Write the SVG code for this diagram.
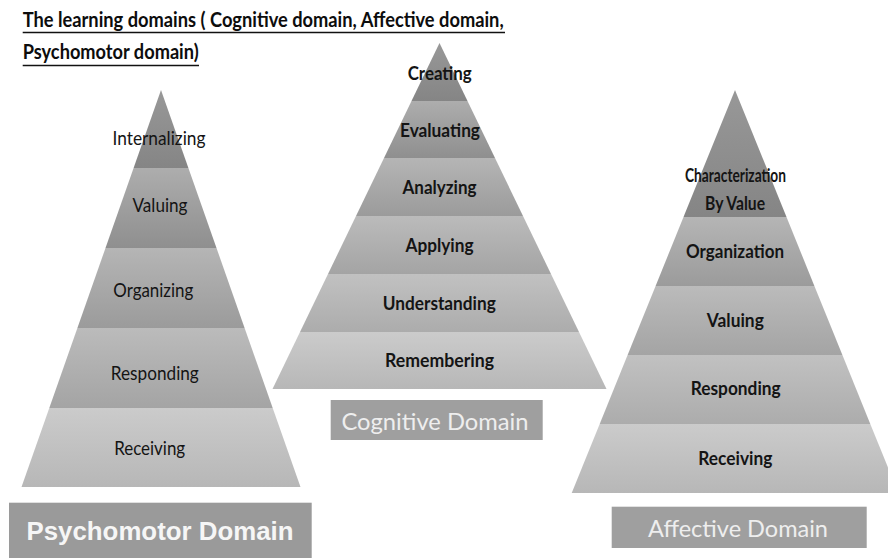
<svg xmlns="http://www.w3.org/2000/svg" width="888" height="558" viewBox="0 0 888 558">
<defs>
<linearGradient id="s1" x1="0" y1="0" x2="0" y2="1"><stop offset="0" stop-color="#989898"/><stop offset="1" stop-color="#858585"/></linearGradient>
<linearGradient id="s2" x1="0" y1="0" x2="0" y2="1"><stop offset="0" stop-color="#adadad"/><stop offset="1" stop-color="#8f8f8f"/></linearGradient>
<linearGradient id="s3" x1="0" y1="0" x2="0" y2="1"><stop offset="0" stop-color="#b5b5b5"/><stop offset="1" stop-color="#9b9b9b"/></linearGradient>
<linearGradient id="s4" x1="0" y1="0" x2="0" y2="1"><stop offset="0" stop-color="#bbbbbb"/><stop offset="1" stop-color="#a4a4a4"/></linearGradient>
<linearGradient id="s5" x1="0" y1="0" x2="0" y2="1"><stop offset="0" stop-color="#c1c1c1"/><stop offset="1" stop-color="#acacac"/></linearGradient>
<linearGradient id="s6" x1="0" y1="0" x2="0" y2="1"><stop offset="0" stop-color="#cbcbcb"/><stop offset="1" stop-color="#b7b7b7"/></linearGradient>
</defs>
<style>
.lbl{font-family:Lato,"Open Sans","DejaVu Sans",sans-serif;font-size:19px;fill:#141414;text-anchor:middle}
.b{font-weight:bold}
.title{font-family:Lato,"Open Sans","DejaVu Sans",sans-serif;font-size:21px;font-weight:bold;fill:#0d0d0d}
.ul{stroke:#111;stroke-width:1.7}
.box{fill:#9f9f9f}
.dom{font-family:Lato,"Open Sans","DejaVu Sans",sans-serif;font-size:24px;fill:#eeeeee;text-anchor:middle}
</style>
<rect width="888" height="558" fill="#ffffff"/>

<g id="title">
<text class="title" x="22.7" y="26.9" textLength="481" lengthAdjust="spacingAndGlyphs">The learning domains ( Cognitive domain, Affective domain,</text>
<line class="ul" x1="22.7" y1="32.5" x2="505" y2="32.5"/>
<text class="title" x="22.7" y="58.5" textLength="176" lengthAdjust="spacingAndGlyphs">Psychomotor domain)</text>
<line class="ul" x1="22.7" y1="65.5" x2="199" y2="65.5"/>
</g>

<g id="psychomotor-pyramid">
<g id="p-internalizing"><polygon points="161,90 188.4,168 133.6,168" fill="url(#s1)"/><text class="lbl" x="159" y="145" textLength="93" lengthAdjust="spacingAndGlyphs">Internalizing</text></g>
<g id="p-valuing"><polygon points="133.6,168 188.4,168 216.5,248 105.5,248" fill="url(#s2)"/><text class="lbl" x="160" y="211.7" textLength="55" lengthAdjust="spacingAndGlyphs">Valuing</text></g>
<g id="p-organizing"><polygon points="105.5,248 216.5,248 244.6,328 77.4,328" fill="url(#s3)"/><text class="lbl" x="153.3" y="296.7" textLength="80" lengthAdjust="spacingAndGlyphs">Organizing</text></g>
<g id="p-responding"><polygon points="77.4,328 244.6,328 272.7,408 49.3,408" fill="url(#s4)"/><text class="lbl" x="154.8" y="380" textLength="88" lengthAdjust="spacingAndGlyphs">Responding</text></g>
<g id="p-receiving"><polygon points="49.3,408 272.7,408 300.5,487 21.5,487" fill="url(#s6)"/><text class="lbl" x="149.7" y="455" textLength="71" lengthAdjust="spacingAndGlyphs">Receiving</text></g>
</g>

<g id="psychomotor-label">
<rect x="9" y="502.7" width="302.7" height="56" fill="#9a9a9a"/>
<text x="160" y="540" font-family="'Liberation Sans',Arial,sans-serif" font-size="25" font-weight="bold" fill="#f6f6f6" text-anchor="middle" textLength="267" lengthAdjust="spacingAndGlyphs">Psychomotor  Domain</text>
</g>

<g id="cognitive-pyramid">
<g id="c-creating"><polygon points="439.5,43 467.5,101 411.5,101" fill="url(#s1)"/><text class="lbl b" x="439.7" y="80" textLength="64" lengthAdjust="spacingAndGlyphs">Creating</text></g>
<g id="c-evaluating"><polygon points="411.5,101 467.5,101 495,158 384,158" fill="url(#s2)"/><text class="lbl b" x="440" y="137" textLength="80" lengthAdjust="spacingAndGlyphs">Evaluating</text></g>
<g id="c-analyzing"><polygon points="384,158 495,158 523,216 356,216" fill="url(#s3)"/><text class="lbl b" x="439.5" y="193.5" textLength="74" lengthAdjust="spacingAndGlyphs">Analyzing</text></g>
<g id="c-applying"><polygon points="356,216 523,216 551,274 328,274" fill="url(#s4)"/><text class="lbl b" x="439.5" y="252" textLength="68" lengthAdjust="spacingAndGlyphs">Applying</text></g>
<g id="c-understanding"><polygon points="328,274 551,274 579,332 300,332" fill="url(#s5)"/><text class="lbl b" x="439.3" y="310" textLength="113" lengthAdjust="spacingAndGlyphs">Understanding</text></g>
<g id="c-remembering"><polygon points="300,332 579,332 606.5,389 272.5,389" fill="url(#s6)"/><text class="lbl b" x="439.5" y="367" textLength="109" lengthAdjust="spacingAndGlyphs">Remembering</text></g>
</g>

<g id="cognitive-label">
<rect class="box" x="330.7" y="400" width="212" height="40"/>
<text class="dom" x="435" y="430" textLength="187" lengthAdjust="spacingAndGlyphs">Cognitive Domain</text>
</g>

<g id="affective-pyramid">
<g id="a-characterization"><polygon points="735,90 786.5,217 683.5,217" fill="url(#s1)"/><text class="lbl b" x="735.5" y="182" font-size="12.5" textLength="101" lengthAdjust="spacingAndGlyphs">Characterization</text><text class="lbl b" x="735" y="210" font-size="16.5" textLength="60" lengthAdjust="spacingAndGlyphs">By Value</text></g>
<g id="a-organization"><polygon points="683.5,217 786.5,217 814.4,286 655.6,286" fill="url(#s3)"/><text class="lbl b" x="735" y="258.3" textLength="98" lengthAdjust="spacingAndGlyphs">Organization</text></g>
<g id="a-valuing"><polygon points="655.6,286 814.4,286 842.4,355 627.6,355" fill="url(#s4)"/><text class="lbl b" x="735.3" y="327" textLength="57" lengthAdjust="spacingAndGlyphs">Valuing</text></g>
<g id="a-responding"><polygon points="627.6,355 842.4,355 870.3,424 599.7,424" fill="url(#s5)"/><text class="lbl b" x="735.7" y="395" textLength="90" lengthAdjust="spacingAndGlyphs">Responding</text></g>
<g id="a-receiving"><polygon points="599.7,424 870.3,424 898.3,493 571.7,493" fill="url(#s6)"/><text class="lbl b" x="735.3" y="465" textLength="74" lengthAdjust="spacingAndGlyphs">Receiving</text></g>
</g>

<g id="affective-label">
<rect class="box" x="611.7" y="506.7" width="255" height="41.3"/>
<text class="dom" x="738" y="537" font-size="25" textLength="180" lengthAdjust="spacingAndGlyphs">Affective Domain</text>
</g>

<g id="connectors"/>
</svg>
